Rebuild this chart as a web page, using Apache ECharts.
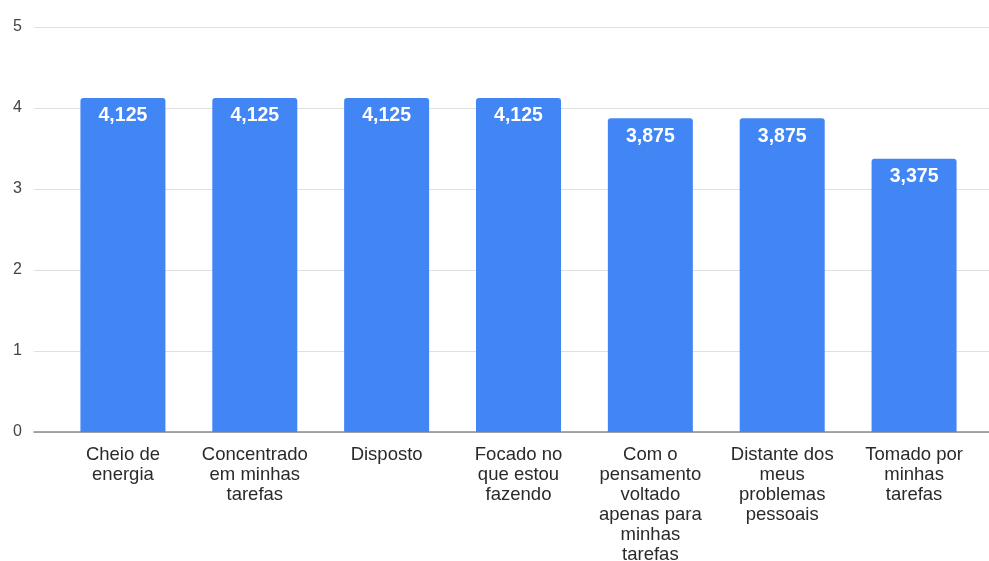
<!DOCTYPE html>
<html>
<head>
<meta charset="utf-8">
<script src="https://cdn.jsdelivr.net/npm/echarts@6/dist/echarts.min.js"></script>
<style>
html,body{margin:0;padding:0;background:#fff;}
#chart{width:989px;height:561px;}
</style>
</head>
<body>
<div id="chart"></div>
<script>
const categories = [
  "Cheio de\nenergia",
  "Concentrado\nem minhas\ntarefas",
  "Disposto",
  "Focado no\nque estou\nfazendo",
  "Com o\npensamento\nvoltado\napenas para\nminhas\ntarefas",
  "Distante dos\nmeus\nproblemas\npessoais",
  "Tomado por\nminhas\ntarefas"
];
const values = [4.125, 4.125, 4.125, 4.125, 3.875, 3.875, 3.375];
const yTicks = [0, 1, 2, 3, 4, 5];

const chart = echarts.init(document.getElementById('chart'), null, {renderer: 'canvas'});
const font = 'Liberation Sans, Arial, sans-serif';
chart.setOption({
  animation: false,
  backgroundColor: '#ffffff',
  grid: [
    {left: 34, right: 0, top: 27, bottom: 129, containLabel: false, outerBoundsMode: 'none'},
    {left: 57, right: 9, top: 27, bottom: 129, containLabel: false, outerBoundsMode: 'none'}
  ],
  xAxis: [
    {gridIndex: 0, type: 'value', min: 0, max: 1, show: true,
     axisLine: {show: true, onZero: false, lineStyle: {color: '#8a8a8a', width: 1.5}},
     axisTick: {show: false}, axisLabel: {show: false}, splitLine: {show: false}},
    {gridIndex: 1, type: 'category', data: categories,
     axisLine: {show: false}, axisTick: {show: false},
     axisLabel: {interval: 0, color: '#2a2a2a', fontSize: 18.5, fontFamily: font, lineHeight: 20, margin: 13, align: 'center'}}
  ],
  yAxis: [
    {gridIndex: 0, type: 'value', min: yTicks[0], max: yTicks[yTicks.length-1], interval: 1,
     axisLine: {show: false}, axisTick: {show: false},
     axisLabel: {color: '#444444', fontSize: 16, fontFamily: font, margin: 12},
     splitLine: {show: true, lineStyle: {color: '#e0e0e0', width: 1}}},
    {gridIndex: 1, type: 'value', min: 0, max: 5, interval: 1, show: false, splitLine: {show: false}}
  ],
  series: [{
    type: 'bar',
    xAxisIndex: 1, yAxisIndex: 1,
    data: values,
    barWidth: 85,
    itemStyle: {color: '#4285f4', borderRadius: [3, 3, 0, 0]},
    label: {
      show: true, position: 'insideTop', distance: 8,
      color: '#ffffff', fontWeight: 'bold', fontSize: 19.5, fontFamily: font,
      formatter: p => p.value.toFixed(3).replace('.', ',')
    }
  }]
});
</script>
</body>
</html>
